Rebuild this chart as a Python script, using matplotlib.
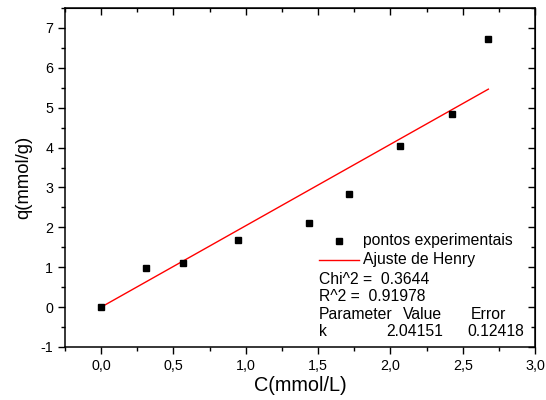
import matplotlib
matplotlib.use("Agg")
import matplotlib.pyplot as plt
import numpy as np
from matplotlib.ticker import MultipleLocator, FuncFormatter

plt.rcParams["font.family"] = ["Liberation Sans", "DejaVu Sans"]

# experimental points
conc = [0.0, 0.307, 0.565, 0.944, 1.436, 1.713, 2.066, 2.424, 2.677]
q_exp = [0.0, 0.985, 1.10, 1.68, 2.106, 2.83, 4.03, 4.85, 6.72]

# Henry fit
k_henry = 2.04151
k_err = 0.12418
chi2 = "0.3644"
r2 = "0.91978"
fit_x = np.array([0.0, 2.677])
fit_y = k_henry * fit_x

fig = plt.figure(figsize=(5.46, 4.0), dpi=100)
ax = fig.add_axes([0.119, 0.1325, 0.861, 0.8475])

ax.plot(fit_x, fit_y, color="#ff0000", linewidth=1.0, zorder=2)
ax.plot(conc, q_exp, linestyle="none", marker="s", markersize=4.5,
        color="black", zorder=3)

ax.set_xlim(-0.25, 3.0)
ax.set_ylim(-1, 7.5)

ax.xaxis.set_major_locator(MultipleLocator(0.5))
ax.xaxis.set_minor_locator(MultipleLocator(0.25))
ax.yaxis.set_major_locator(MultipleLocator(1))
ax.yaxis.set_minor_locator(MultipleLocator(0.5))
ax.xaxis.set_major_formatter(FuncFormatter(lambda v, p: f"{v:.1f}".replace(".", ",")))
ax.yaxis.set_major_formatter(FuncFormatter(lambda v, p: f"{v:.0f}"))

ax.tick_params(which="major", direction="out", length=5, width=1, labelsize=10.3, colors="black")
ax.tick_params(which="minor", direction="out", length=3, width=1)
for sp in ax.spines.values():
    sp.set_linewidth(1.1)

# mirrored ticks pointing inward on top and right
top = ax.secondary_xaxis("top")
top.xaxis.set_major_locator(MultipleLocator(0.5))
top.xaxis.set_minor_locator(MultipleLocator(0.25))
top.tick_params(which="major", direction="in", length=5, width=1, labeltop=False)
top.tick_params(which="minor", direction="in", length=3, width=1)
right = ax.secondary_yaxis("right")
right.yaxis.set_major_locator(MultipleLocator(1))
right.yaxis.set_minor_locator(MultipleLocator(0.5))
right.tick_params(which="major", direction="in", length=5, width=1, labelright=False)
right.tick_params(which="minor", direction="in", length=3, width=1)

ax.set_xlabel("C(mmol/L)", fontsize=14.3, labelpad=2)
ax.set_ylabel("q(mmol/g)", fontsize=13.3, labelpad=6)

# legend and fit report
tr = ax.transAxes
fs = 11.3
ax.plot([0.582], [0.313], marker="s", markersize=5, color="black", transform=tr, clip_on=False)
ax.text(0.634, 0.313, "pontos experimentais", transform=tr, fontsize=fs, va="center")
ax.plot([0.540, 0.626], [0.2575, 0.2575], color="#ff0000", linewidth=1.0, transform=tr)
ax.text(0.634, 0.2575, "Ajuste de Henry", transform=tr, fontsize=fs, va="center")
ax.text(0.540, 0.1985, f"Chi^2 =  {chi2}", transform=tr, fontsize=fs, va="center")
ax.text(0.540, 0.150, f"R^2 =  {r2}", transform=tr, fontsize=fs, va="center")
ax.text(0.540, 0.0973, "Parameter", transform=tr, fontsize=fs, va="center")
ax.text(0.802, 0.0973, "Value", transform=tr, fontsize=fs, va="center", ha="right")
ax.text(0.864, 0.0973, "Error", transform=tr, fontsize=fs, va="center")
ax.text(0.540, 0.047, "k", transform=tr, fontsize=fs, va="center")
ax.text(0.804, 0.047, f"{k_henry:.5f}", transform=tr, fontsize=fs, va="center", ha="right")
ax.text(0.977, 0.047, f"{k_err:.5f}", transform=tr, fontsize=fs, va="center", ha="right")

fig.savefig("out.png", dpi=100)
